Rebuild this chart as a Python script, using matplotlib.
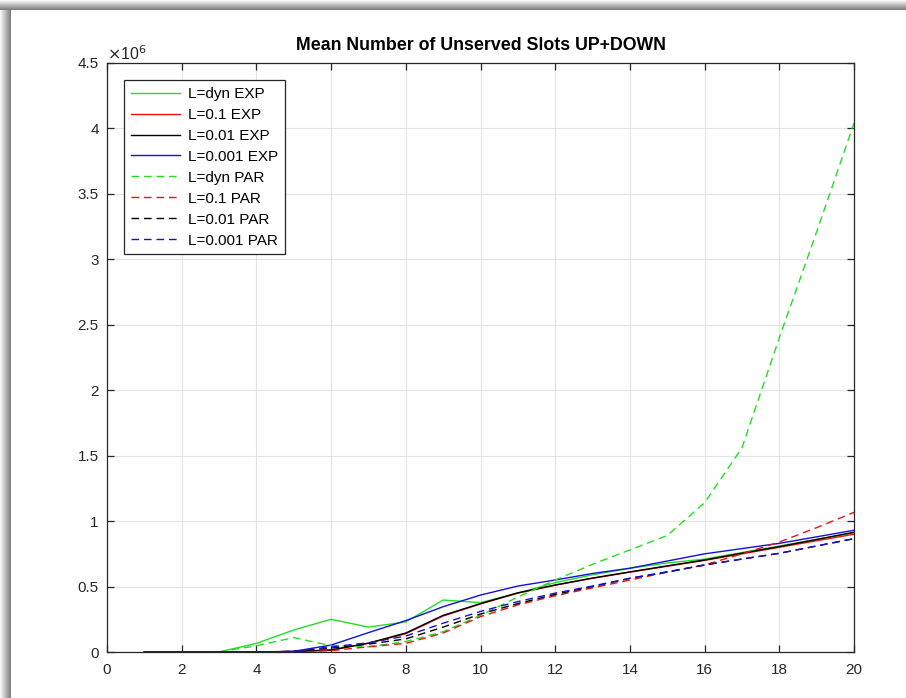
import numpy as np
import matplotlib
matplotlib.use("Agg")
import matplotlib.pyplot as plt
from matplotlib.ticker import FuncFormatter, MultipleLocator

plt.rcParams['font.family'] = ['Liberation Sans', 'DejaVu Sans']

x = list(range(1, 21))

dyn_exp   = [0, 0, 0, 0.066e6, 0.168e6, 0.25e6, 0.19e6, 0.23e6, 0.397e6, 0.377e6,
             0.45e6, 0.53e6, 0.59e6, 0.64e6, 0.68e6, 0.71e6, 0.76e6, 0.81e6, 0.86e6, 0.91e6]
l01_exp   = [0, 0, 0, 0, 0.004e6, 0.015e6, 0.066e6, 0.14e6, 0.275e6, 0.367e6,
             0.45e6, 0.51e6, 0.563e6, 0.61e6, 0.655e6, 0.70e6, 0.75e6, 0.80e6, 0.85e6, 0.90e6]
l001_exp  = [0, 0, 0, 0, 0.004e6, 0.015e6, 0.068e6, 0.145e6, 0.28e6, 0.37e6,
             0.452e6, 0.512e6, 0.565e6, 0.612e6, 0.658e6, 0.703e6, 0.755e6, 0.805e6, 0.86e6, 0.915e6]
l0001_exp = [0, 0, 0, 0, 0.005e6, 0.053e6, 0.148e6, 0.24e6, 0.346e6, 0.435e6,
             0.504e6, 0.55e6, 0.60e6, 0.64e6, 0.695e6, 0.75e6, 0.79e6, 0.83e6, 0.88e6, 0.93e6]
dyn_par   = [0, 0, 0, 0.048e6, 0.11e6, 0.048e6, 0.04e6, 0.08e6, 0.155e6, 0.28e6,
             0.42e6, 0.55e6, 0.67e6, 0.78e6, 0.89e6, 1.14e6, 1.56e6, 2.40e6, 3.21e6, 4.04e6]
l01_par   = [0, 0, 0, 0, 0.003e6, 0.01e6, 0.04e6, 0.066e6, 0.145e6, 0.27e6,
             0.36e6, 0.43e6, 0.49e6, 0.55e6, 0.61e6, 0.665e6, 0.75e6, 0.84e6, 0.95e6, 1.067e6]
l001_par  = [0, 0, 0, 0, 0.004e6, 0.03e6, 0.06e6, 0.10e6, 0.19e6, 0.29e6,
             0.37e6, 0.44e6, 0.50e6, 0.563e6, 0.612e6, 0.665e6, 0.71e6, 0.754e6, 0.81e6, 0.866e6]
l0001_par = [0, 0, 0, 0, 0.005e6, 0.04e6, 0.07e6, 0.122e6, 0.22e6, 0.31e6,
             0.385e6, 0.45e6, 0.504e6, 0.563e6, 0.612e6, 0.665e6, 0.71e6, 0.754e6, 0.81e6, 0.866e6]

labels = ['L=dyn EXP', 'L=0.1 EXP', 'L=0.01 EXP', 'L=0.001 EXP',
          'L=dyn PAR', 'L=0.1 PAR', 'L=0.01 PAR', 'L=0.001 PAR']
series = [dyn_exp, l01_exp, l001_exp, l0001_exp, dyn_par, l01_par, l001_par, l0001_par]
colors = ['#22dd22', '#ee1111', '#000000', '#1111dd'] * 2
styles = ['-'] * 4 + ['--'] * 4

fig = plt.figure(figsize=(9.06, 6.98), dpi=100)

# decorative window frame (shadow) on top and left
bg = fig.add_axes([0, 0, 1, 1], zorder=-10)
bg.set_axis_off()
H, W = 698, 906
img = np.ones((H, W, 3))
top = 10
left = 11
for i in range(top):
    v = 0.97 - 0.47 * (i / (top - 1))
    img[i, :, :] = v
for j in range(left):
    v = 0.97 - 0.47 * (j / (left - 1))
    img[top:, j, :] = np.minimum(img[top:, j, :], v)
bg.imshow(img, aspect='auto', extent=[0, 1, 0, 1], transform=bg.transAxes)
bg.set_xlim(0, 1)
bg.set_ylim(0, 1)

ax = fig.add_axes([107 / 906, 46 / 698, 747 / 906, 589 / 698])
for s, lab, c, ls in zip(series, labels, colors, styles):
    line, = ax.plot(x, s, color=c, linestyle=ls, linewidth=1.0, label=lab)
    if ls == '--':
        line.set_dashes((5.5, 3.5))

ax.set_xlim(0, 20)
ax.set_ylim(0, 4.5e6)
ax.xaxis.set_major_locator(MultipleLocator(2))
ax.yaxis.set_major_locator(MultipleLocator(0.5e6))
ax.yaxis.set_major_formatter(FuncFormatter(lambda v, p: '%g' % (v / 1e6)))
ax.grid(True, color='#e3e3e3', linewidth=0.8)
ax.set_axisbelow(True)
edge = '#262626'
for sp in ax.spines.values():
    sp.set_color(edge)
    sp.set_linewidth(0.9)
ax.tick_params(direction='in', length=5, width=0.9, colors=edge, labelsize=11,
               top=True, right=True, pad=6)
ax.tick_params(axis='x', pad=8)

ax.text(0.0, 1.0, r'$\times$10$^{6}$', transform=ax.transAxes, ha='left', va='bottom',
        fontsize=11.5, color=edge)
ax.set_title('Mean Number of Unserved Slots UP+DOWN', fontsize=12.8, fontweight='bold',
             color='black', pad=9)

leg = ax.legend(loc='upper left', bbox_to_anchor=(0.023, 0.971), fontsize=11,
                frameon=True, fancybox=False, edgecolor=edge, framealpha=1,
                handlelength=3.2, handletextpad=0.5, labelspacing=0.455,
                borderpad=0.45, borderaxespad=0)
leg.get_frame().set_linewidth(0.9)

fig.savefig('out.png', dpi=100)
